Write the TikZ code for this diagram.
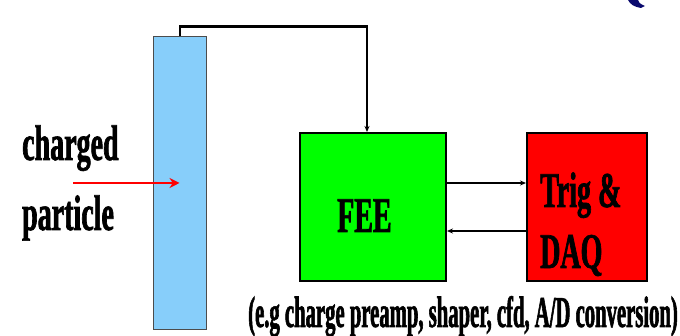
\documentclass[tikz,border=0pt]{standalone}
\usepackage{fontspec}
\setmainfont{Liberation Serif}[FakeStretch=0.56, BoldFeatures={FakeBold=1.3}]
\newfontfamily\notefont{Liberation Serif}[FakeStretch=0.47, BoldFeatures={FakeBold=1.3}]
\usepackage{xcolor}
\usepackage{tikz}
\usetikzlibrary{arrows.meta,positioning,calc}
\definecolor{detblue}{RGB}{135,206,250}
\definecolor{feegreen}{RGB}{0,255,0}
\definecolor{daqred}{RGB}{255,0,0}
\definecolor{logoblue}{RGB}{10,10,110}
\tikzset{
	bigtext/.style={inner sep=0pt, anchor=base west, font=\fontsize{50}{60}\selectfont\bfseries},
	blockbox/.style={draw, line width=2pt, minimum height=148pt, inner sep=0pt},
	sigline/.style={line width=2.2pt, -{Stealth[length=6pt,width=5pt]}}
}

\begin{document}
\begin{tikzpicture}[x=1pt, y=1pt]
			\useasboundingbox (0,0) rectangle (680,336);
			% detector bar
			\node[draw=black!70, line width=1pt, fill=detblue, minimum width=53pt, minimum height=293pt, inner sep=0pt] (det) at (179.5,152.5) {};
			
			% front end and trigger/DAQ
			\node[blockbox, fill=feegreen, minimum width=146pt] (fee) at (373,129) {};
			\node[blockbox, fill=daqred, minimum width=120pt, right=79pt of fee] (daq) {};
			
			\node[bigtext] (feetxt) at (337,104) {FEE};
			\node[bigtext] (trig) at (540,129) {Trig \&};
			\node[bigtext] (dq) at (540,68) {DAQ};
			
			\node[bigtext] (charged) at (22,176) {charged};
			\node[bigtext] (particle) at (22,106) {particle};
			\node[bigtext, font=\fontsize{44}{52}\selectfont\notefont\bfseries] (note) at (248,9) {(e.g charge preamp, shaper, cfd, A/D conversion)};
			
			% wire from detector to FEE
			\coordinate (wtop) at ($(det.north)+(0.5,0)$);
			\coordinate (fin) at ($(fee.north)+(-6,0)$);
			\draw[line width=2.2pt, -{Stealth[length=6pt,width=5pt]}] (wtop) |- ++(0,10) -| (fin);
			
			\draw[sigline] ($(fee.east)+(0,24)$) -- ($(daq.west)+(0,24)$);
			\draw[sigline] ($(daq.west)+(0,-24)$) -- ($(fee.east)+(0,-24)$);
			
			% incoming particle
			\coordinate (pstart) at (73,153);
			\draw[daqred, line width=2.5pt, -{Stealth[length=10pt,width=10pt]}] (pstart) -- (det.center |- pstart);
			
			% piece of logo at the top edge
			\fill[logoblue] (628,336) .. controls (630,332) and (634,329) .. (641,328) -- (645,330) .. controls (640,332) and (638,334) .. (638,336) -- cycle;
\end{tikzpicture}
\end{document}
